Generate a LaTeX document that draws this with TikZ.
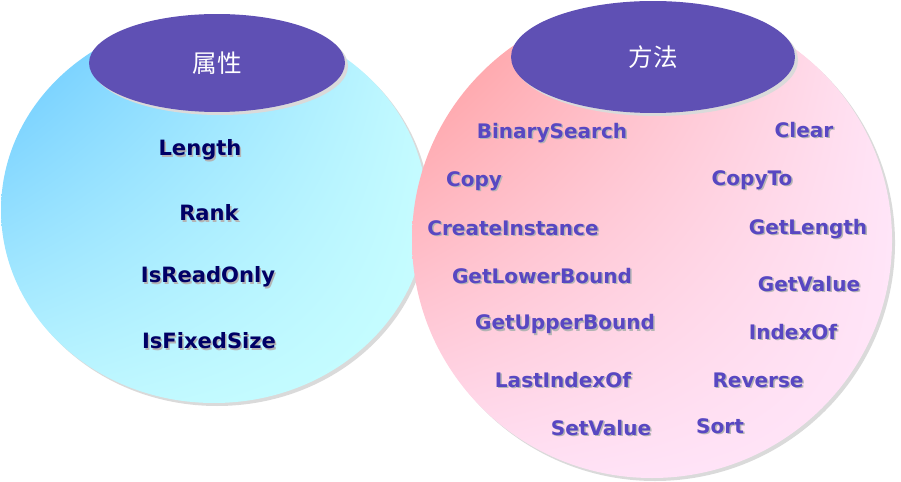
\documentclass[tikz,border=0pt]{standalone}
\usepackage{fontspec}
\usepackage{xcolor}
\usepackage{tikz}
\usetikzlibrary{calc, shapes.geometric, shadings}

\setmainfont{DejaVu Sans}
\newfontfamily\cjk{Noto Sans CJK SC}

\definecolor{hdrpurple}{HTML}{5F50B4}
\definecolor{propnavy}{HTML}{000066}
\definecolor{methblue}{HTML}{5847C2}
\definecolor{shadowgray}{HTML}{B4B4B4}
\definecolor{rimgray}{HTML}{DADADA}
\definecolor{skyA}{HTML}{64C6FF}
\definecolor{skyB}{HTML}{C4FAFF}
\definecolor{skyC}{HTML}{BEF6FF}
\definecolor{skyD}{HTML}{C8FFFF}
\definecolor{roseA}{HTML}{FF9696}
\definecolor{roseB}{HTML}{FFE4F6}
\definecolor{roseC}{HTML}{FFE0F4}
\definecolor{roseD}{HTML}{FFE6FA}

\tikzset{
    header/.style={ellipse, fill=hdrpurple, text=white, inner sep=0pt,
        font=\cjk\fontsize{14}{16}\selectfont},
    prop/.style={text=propnavy, font=\bfseries\fontsize{12}{14}\selectfont, inner sep=0pt},
    meth/.style={text=methblue, font=\bfseries\fontsize{11.4}{13}\selectfont, inner sep=0pt},
}

% texte avec ombre portée
\newcommand{\shadowtext}[4]{%
    \node[#1, text=shadowgray] at ($(#3)+(1.5,1.5)$) {#4};
    \node[#1] (#2) at (#3) {#4};}

\begin{document}
\begin{tikzpicture}[x=0.02cm, y=-0.02cm]
    \useasboundingbox (0,0) rectangle (901,482);

    % Cercle gauche : propriétés
    \fill[rimgray] (217,213) ellipse [x radius=213, y radius=193];
    \shade[upper left=skyA, upper right=skyB, lower left=skyC, lower right=skyD]
        (214,210) ellipse [x radius=213, y radius=193];
    \fill[rimgray] (220,66) ellipse [x radius=128, y radius=49];
    \node[header, minimum width=5.12cm, minimum height=1.96cm] (props) at (217,63) {属性};

    \shadowtext{prop}{length}{200,150}{Length}
    \shadowtext{prop}{rank}{209,213}{Rank}
    \shadowtext{prop}{readonly}{208,277}{IsReadOnly}
    \shadowtext{prop}{fixedsize}{209,341}{IsFixedSize}

    % Cercle droit : méthodes
    \fill[rimgray] (655,243) ellipse [x radius=240, y radius=238];
    \shade[upper left=roseA, upper right=roseB, lower left=roseC, lower right=roseD]
        (652,240) ellipse [x radius=240, y radius=238];
    \fill[rimgray] (656,60) ellipse [x radius=142, y radius=56];
    \node[header, minimum width=5.68cm, minimum height=2.24cm] (methods) at (653,57) {方法};

    \shadowtext{meth}{binsearch}{552,133}{BinarySearch}
    \shadowtext{meth}{copy}{474,181}{Copy}
    \shadowtext{meth}{createinst}{513,228}{CreateInstance}
    \shadowtext{meth}{lowerbound}{542,276}{GetLowerBound}
    \shadowtext{meth}{upperbound}{565,324}{GetUpperBound}
    \shadowtext{meth}{lastindex}{563,380}{LastIndexOf}
    \shadowtext{meth}{setvalue}{601,428}{SetValue}
    \shadowtext{meth}{clear}{804,130}{Clear}
    \shadowtext{meth}{copyto}{752,180}{CopyTo}
    \shadowtext{meth}{getlength}{808,229}{GetLength}
    \shadowtext{meth}{getvalue}{809,284}{GetValue}
    \shadowtext{meth}{indexof}{793,332}{IndexOf}
    \shadowtext{meth}{reverse}{758,380}{Reverse}
    \shadowtext{meth}{sort}{720,426}{Sort}

\end{tikzpicture}
\end{document}
